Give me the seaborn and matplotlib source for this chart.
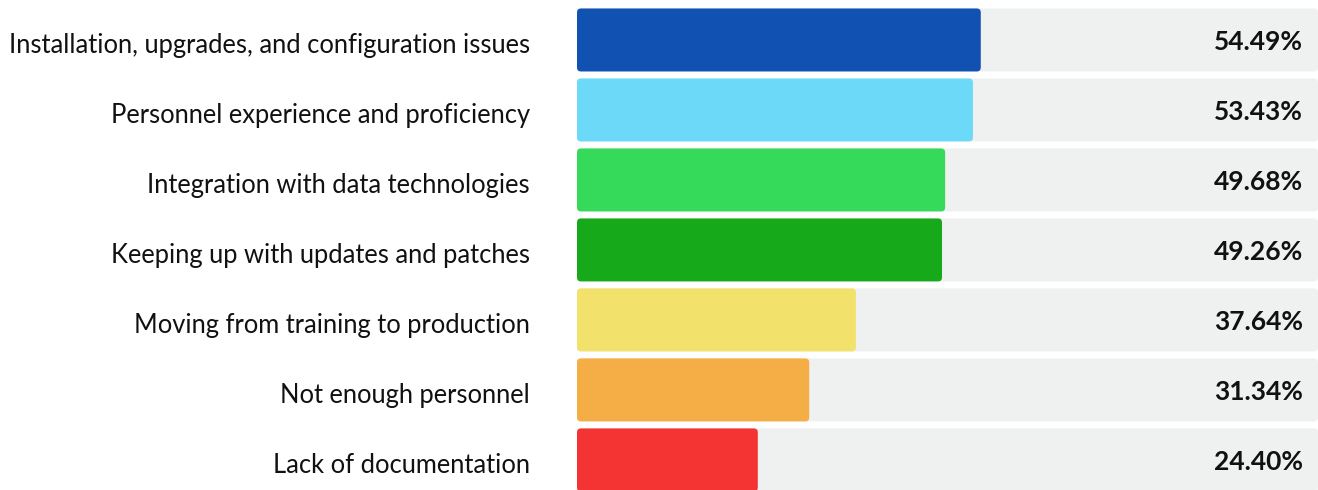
import matplotlib
matplotlib.use("Agg")
import matplotlib.pyplot as plt
import matplotlib.transforms as mtransforms
import seaborn as sns
import pandas as pd
from matplotlib.patches import FancyBboxPatch

# chart data
CATEGORIES = [
    "Installation, upgrades, and configuration issues",
    "Personnel experience and proficiency",
    "Integration with data technologies",
    "Keeping up with updates and patches",
    "Moving from training to production",
    "Not enough personnel",
    "Lack of documentation",
]
VALUES = [54.49, 53.43, 49.68, 49.26, 37.64, 31.34, 24.40]
BAR_COLORS = ["#1051B2", "#6DD9F9", "#36DA5A", "#16AA1A", "#F2E26C", "#F5AD45", "#F43333"]
TRACK_COLOR = "#EFF0F0"
FULL_SCALE = 100

FIG_W, FIG_H, DPI = 13.18, 4.9, 100

sns.set_style("white")
plt.rcParams['font.family'] = ['Lato', 'DejaVu Sans']

df = pd.DataFrame({"category": CATEGORIES, "value": VALUES, "track": [FULL_SCALE] * len(VALUES)})

fig = plt.figure(figsize=(FIG_W, FIG_H), dpi=DPI)
ax = fig.add_axes([577 / 1318, 0, 1 - 577 / 1318, 1])

sns.barplot(data=df, x="track", y="category", color=TRACK_COLOR, width=0.9,
            saturation=1, ax=ax, orient="h")
sns.barplot(data=df, x="value", y="category", hue="category", palette=BAR_COLORS,
            width=0.9, saturation=1, legend=False, ax=ax, orient="h")

ax.set_xlim(0, FULL_SCALE)
ax.set_ylim(6.43, -0.571)

# round off the bar corners
x_px = (1318 - 577) / FULL_SCALE
y_px = 70.0
radius = 4.0 / x_px
for p in list(ax.patches):
    x0, y0 = p.get_x(), p.get_y()
    w, h = p.get_width(), p.get_height()
    rounded = FancyBboxPatch((x0, y0), w, h,
                             boxstyle=f"round,pad=0,rounding_size={radius}",
                             mutation_aspect=x_px / y_px,
                             facecolor=p.get_facecolor(), edgecolor="none", linewidth=0)
    p.remove()
    ax.add_patch(rounded)

for i, v in enumerate(VALUES):
    ax.text(98.0, i + 0.03, f"{v:.2f}%", ha="right", va="center",
            fontsize=19, fontweight="bold", color="#111111")

ax.set_xlabel("")
ax.set_ylabel("")
ax.set_xticks([])
ax.tick_params(axis="y", length=0, pad=34, labelsize=18.4, labelcolor="#111111")
shift = mtransforms.ScaledTranslation(0, -4 / 72, fig.dpi_scale_trans)
for lbl in ax.get_yticklabels():
    lbl.set_verticalalignment("center")
    lbl.set_transform(lbl.get_transform() + shift)
for s in ax.spines.values():
    s.set_visible(False)

fig.savefig("out.png", dpi=DPI, facecolor="white")
